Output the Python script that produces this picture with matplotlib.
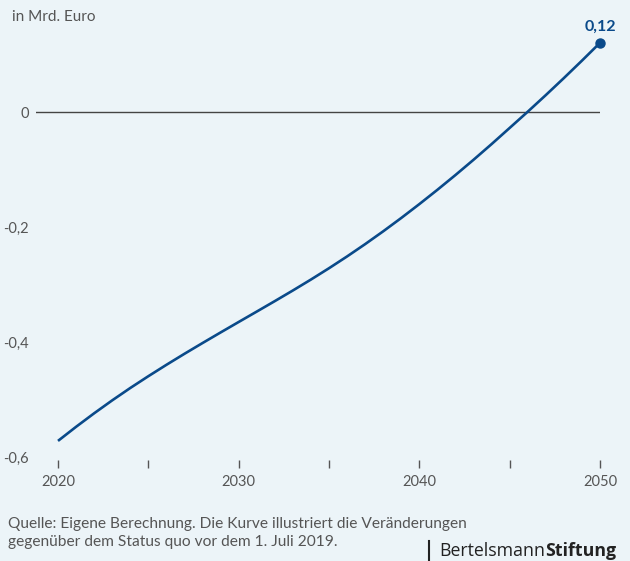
import matplotlib.pyplot as plt
import numpy as np

plt.rcParams['font.family'] = ['Lato', 'DejaVu Sans']

# change vs. status quo, billion euro, per year
years = list(range(2020, 2051))
values = [-0.5720, -0.5475, -0.5240, -0.5015, -0.4800, -0.4595, -0.4397, -0.4205, -0.4018, -0.3834,
          -0.3652, -0.3471, -0.3289, -0.3104, -0.2914, -0.2717, -0.2512, -0.2298, -0.2075, -0.1843,
          -0.1602, -0.1353, -0.1096, -0.0831, -0.0558, -0.0277, 0.0005, 0.0294, 0.0590, 0.0893, 0.1203]
major_years = [2020, 2030, 2040, 2050]
minor_years = [2025, 2035, 2045]
y_ticks = [0, -0.2, -0.4, -0.6]
y_labels = ['0', '-0,2', '-0,4', '-0,6']

bg = '#ecf4f8'
blue = '#0a4a8a'
grey = '#555555'

W, H = 630, 561
fig = plt.figure(figsize=(W / 100, H / 100), dpi=100, facecolor=bg)
ax = fig.add_axes([36 / W, 104 / H, 564 / W, 425.5 / H])
ax.set_facecolor(bg)

ax.plot(years, values, color=blue, lw=1.9, solid_capstyle='butt', clip_on=False, zorder=3)
ax.plot(years[-1], values[-1], 'o', color=blue, ms=6.5, clip_on=False, zorder=4)
ax.annotate(f'{values[-1]:.2f}'.replace('.', ','), (years[-1], values[-1]),
            xytext=(0, 6.5), textcoords='offset points', ha='center', va='bottom',
            fontsize=11.5, fontweight='bold', color=blue)

ax.axhline(0, color='#444444', lw=1, zorder=2)

ax.set_xlim(2020 - 22 / 18.067, 2050)
ax.set_ylim(-0.6, 0.14)

for s in ax.spines.values():
    s.set_visible(False)
ax.spines['bottom'].set_position(('outward', 2.2))

ax.set_xticks(major_years)
ax.set_xticklabels([str(y) for y in major_years])
ax.set_xticks(minor_years, minor=True)
ax.tick_params(axis='x', which='both', length=5.5, width=1, color=grey,
               labelcolor=grey, labelsize=10.5, pad=5)

ax.set_yticks(y_ticks)
ax.set_yticklabels(y_labels)
ax.tick_params(axis='y', length=0, pad=5, labelcolor=grey, labelsize=10.5)

fig.text(12 / W, 1 - 17 / H, 'in Mrd. Euro', fontsize=11, color=grey, va='center', ha='left')

fig.text(8 / W, 1 - 524 / H, 'Quelle: Eigene Berechnung. Die Kurve illustriert die Veränderungen',
         fontsize=11.2, color=grey, va='center', ha='left')
fig.text(8 / W, 1 - 542 / H, 'gegenüber dem Status quo vor dem 1. Juli 2019.',
         fontsize=11.2, color=grey, va='center', ha='left')

# foundation logo text
fig.add_artist(plt.Line2D([429 / W, 429 / W], [0, 1 - 541 / H], color='#222222', lw=1.5))
t1 = fig.text(439 / W, 1 - 551 / H, 'Bertelsmann', fontsize=12.8, family='Open Sans',
              color='#222222', va='center', ha='left')
fig.canvas.draw()
bb = t1.get_window_extent()
fig.text(bb.x1 / W, 1 - 551 / H, 'Stiftung', fontsize=12.8, family='Open Sans', fontweight='bold',
         color='#222222', va='center', ha='left')

fig.savefig('out.png', dpi=100, facecolor=bg)
